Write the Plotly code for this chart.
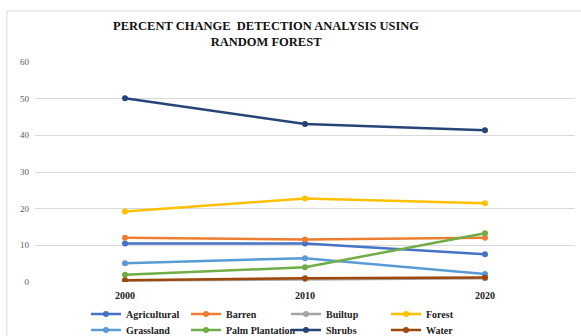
import plotly.graph_objects as go

years = ["2000", "2010", "2020"]
series_names = ["Agricultural", "Barren", "Builtup", "Forest",
                "Grassland", "Palm Plantation", "Shrubs", "Water"]
agricultural = [10.5, 10.5, 7.6]
barren = [12.1, 11.6, 12.1]
builtup = [0.4, 0.8, 1.0]
forest = [19.2, 22.8, 21.5]
grassland = [5.1, 6.5, 2.2]
palm_plantation = [2.0, 4.0, 13.3]
shrubs = [50.1, 43.1, 41.4]
water = [0.5, 1.0, 1.2]

values = [agricultural, barren, builtup, forest, grassland, palm_plantation, shrubs, water]
colors = ["#4472C4", "#ED7D31", "#A5A5A5", "#FFC000",
          "#5B9BD5", "#70AD47", "#264478", "#9E480E"]

FONT = "Liberation Serif, Times New Roman, serif"

fig = go.Figure()
for i, (name, vals, col) in enumerate(zip(series_names, values, colors)):
    fig.add_trace(go.Scatter(
        x=years, y=vals, name=name, mode="lines+markers",
        line=dict(color=col, width=2.5),
        marker=dict(color=col, size=6),
        legend="legend" if i < 4 else "legend2",
    ))

legend_common = dict(
    orientation="h", xanchor="left", yanchor="middle",
    xref="container", yref="container",
    entrywidth=55, entrywidthmode="pixels", itemwidth=30,
    font=dict(family=FONT, size=10, color="#222222", weight="bold"),
    tracegroupgap=0, bgcolor="rgba(0,0,0,0)",
)

fig.update_layout(
    width=581, height=336,
    margin=dict(l=35, r=6, t=62, b=54),
    paper_bgcolor="white", plot_bgcolor="white",
    font=dict(family=FONT),
    title=dict(
        text="PERCENT CHANGE  DETECTION ANALYSIS USING<br>RANDOM FOREST",
        x=0.458, xref="container", xanchor="center",
        y=0.91, yref="container", yanchor="middle",
        font=dict(family=FONT, size=12.5, color="#111111", weight="bold"),
    ),
    xaxis=dict(
        type="category", range=[-0.5, 2.5], showgrid=False, zeroline=False, showline=False,
        tickfont=dict(family=FONT, size=10, color="#222222", weight="bold"),
        ticks="", ticklabelstandoff=6, automargin=False,
    ),
    yaxis=dict(
        range=[0, 60], tickvals=[0, 10, 20, 30, 40, 50, 60],
        showgrid=True, gridcolor="#D9D9D9", gridwidth=1,
        zeroline=False, showline=False,
        tickfont=dict(family=FONT, size=9, color="#595959"),
        ticks="", ticklabelstandoff=5, automargin=False,
    ),
    legend=dict(legend_common, x=0.148, y=1 - 314 / 336),
    legend2=dict(legend_common, x=0.148, y=1 - 330 / 336),
    showlegend=True,
)

fig.add_shape(type="rect", xref="paper", yref="paper",
              x0=-0.052, x1=1.02, y0=-0.3, y1=1.232,
              line=dict(color="#D9D9D9", width=1), fillcolor="rgba(0,0,0,0)",
              layer="below")

fig.write_html("out.html")
